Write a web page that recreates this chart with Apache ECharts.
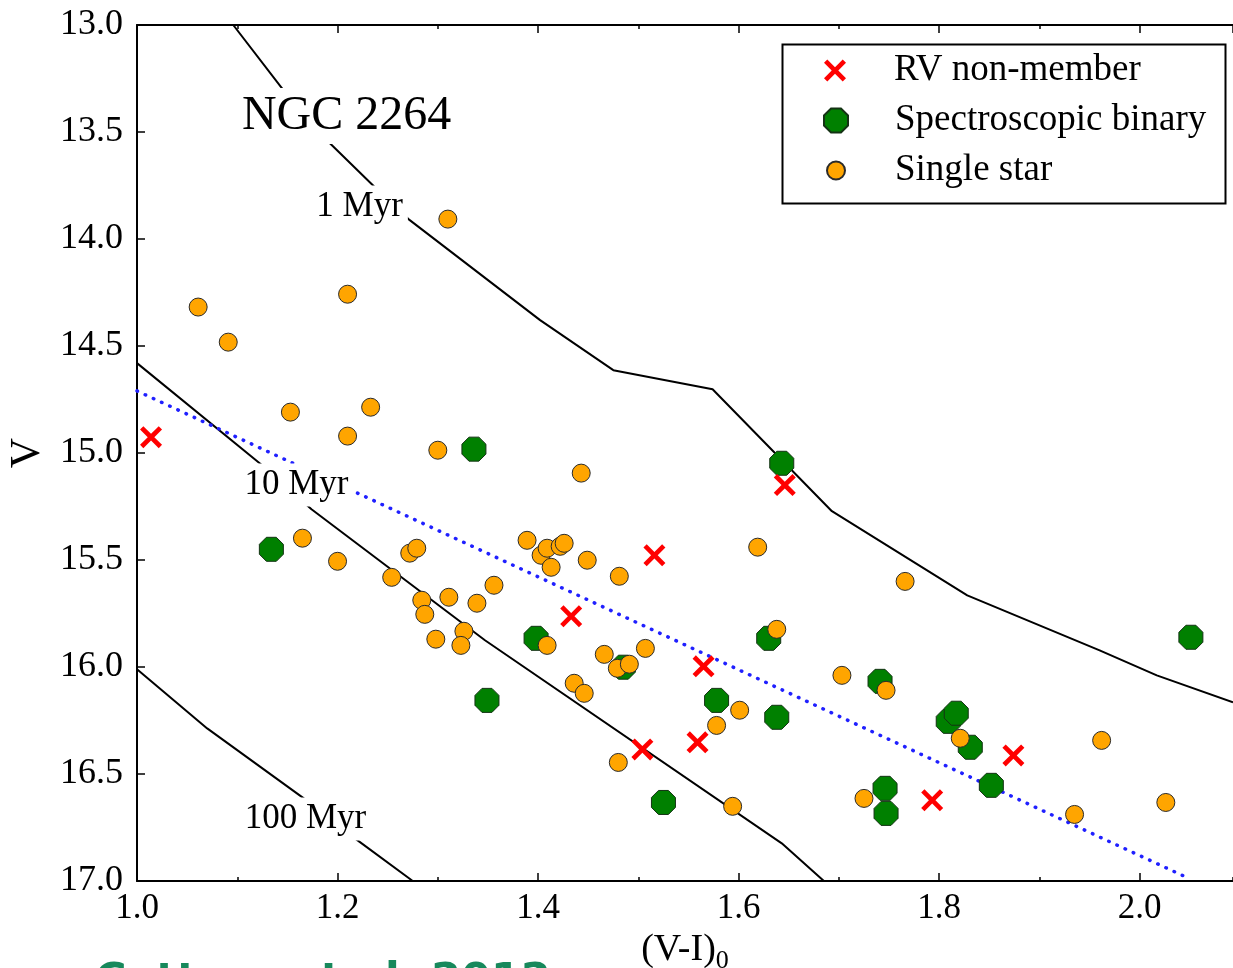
<!DOCTYPE html>
<html>
<head>
<meta charset="utf-8">
<title>NGC 2264 colour-magnitude diagram</title>
<script src="https://cdn.jsdelivr.net/npm/echarts@6/dist/echarts.min.js"></script>
<style>
  html, body { margin: 0; padding: 0; background: #fff; }
  #chart { width: 1233px; height: 968px; }
</style>
</head>
<body>
<div id="chart"></div>
<script>
// ── data: [(V-I)0, V] ─────────────────────────────────────
const rvNonMember = [
  [1.014, 14.926], [1.646, 15.150], [1.516, 15.478], [1.433, 15.763], [1.565, 15.997],
  [1.504, 16.385], [1.559, 16.352], [1.874, 16.413], [1.793, 16.623]
]
const specBinary = [
  [1.336, 14.982], [1.643, 15.048], [1.134, 15.450], [1.398, 15.866], [1.485, 16.001],
  [1.630, 15.866], [2.051, 15.861], [1.349, 16.156], [1.578, 16.156], [1.638, 16.235],
  [1.741, 16.067], [1.809, 16.254], [1.817, 16.216], [1.831, 16.375], [1.852, 16.553],
  [1.525, 16.633], [1.746, 16.567], [1.747, 16.684]
]
const singleStar = [
  [1.061, 14.318], [1.210, 14.258], [1.310, 13.907], [1.091, 14.482], [1.153, 14.809],
  [1.233, 14.786], [1.210, 14.921], [1.300, 14.987], [1.443, 15.094], [1.165, 15.398],
  [1.200, 15.506], [1.254, 15.581], [1.272, 15.468], [1.279, 15.445], [1.389, 15.408],
  [1.403, 15.478], [1.409, 15.445], [1.422, 15.436], [1.426, 15.422], [1.413, 15.534],
  [1.449, 15.501], [1.481, 15.576], [1.619, 15.440], [1.766, 15.600], [1.356, 15.618],
  [1.284, 15.688], [1.311, 15.674], [1.339, 15.702], [1.287, 15.754], [1.326, 15.833],
  [1.298, 15.870], [1.323, 15.899], [1.409, 15.899], [1.466, 15.941], [1.479, 16.006],
  [1.491, 15.987], [1.507, 15.913], [1.638, 15.824], [1.703, 16.039], [1.436, 16.076],
  [1.446, 16.123], [1.601, 16.202], [1.578, 16.273], [1.747, 16.109], [1.821, 16.333],
  [1.962, 16.343], [1.480, 16.446], [1.594, 16.651], [1.725, 16.614], [1.935, 16.689],
  [2.026, 16.633]
]

// isochrones
const iso1Myr = [
  [1.096, 13.0], [1.146, 13.304], [1.187, 13.528], [1.237, 13.757], [1.272, 13.912],
  [1.402, 14.379], [1.475, 14.613], [1.574, 14.702], [1.693, 15.272], [1.828, 15.665],
  [1.960, 15.922], [2.017, 16.039], [2.093, 16.165]
]
const iso10Myr = [
  [1.0, 14.580], [1.126, 15.062], [1.174, 15.263], [1.347, 15.875], [1.643, 16.824], [1.685, 17.0]
]
const iso100Myr = [
  [1.0, 16.011], [1.070, 16.287], [1.165, 16.609], [1.220, 16.810], [1.275, 17.0]
]
const fitLine = [[1.0, 14.71], [2.05, 16.99]]

// text annotations
const notes = [
  { name: 'NGC 2264', value: [1.209, 13.425], size: 48 },
  { name: '1 Myr',    value: [1.222, 13.85],  size: 35 },
  { name: '10 Myr',   value: [1.159, 15.15],  size: 35 },
  { name: '100 Myr',  value: [1.168, 16.71],  size: 35 },
]

const SERIF = '"Liberation Serif", "DejaVu Serif", serif'
const X_PATH = 'path://M0,1.5L1.5,0L5,3.5L8.5,0L10,1.5L6.5,5L10,8.5L8.5,10L5,6.5L1.5,10L0,8.5L3.5,5Z'
const OCT_PATH = 'path://M29.3,0L70.7,0L100,29.3L100,70.7L70.7,100L29.3,100L0,70.7L0,29.3Z'
const X_MAX = 2.093

const chart = echarts.init(document.getElementById('chart'), null, { renderer: 'canvas' })

// major axis (labels + long ticks) and a second one carrying the short ticks
function majorX(pos, withLabels) {
  return {
    type: 'value', position: pos, min: 1.0, max: X_MAX, interval: 0.2,
    axisLine: { show: true, onZero: false, lineStyle: { color: '#000', width: 2 } },
    axisTick: { show: true, inside: true, length: 8, lineStyle: { color: '#000', width: 1.5 } },
    axisLabel: {
      show: withLabels, showMaxLabel: false, margin: 10,
      fontFamily: SERIF, fontSize: 35, color: '#000',
      formatter: v => v.toFixed(1)
    },
    splitLine: { show: false },
  }
}
function minorX(pos) {
  return {
    type: 'value', position: pos, min: 1.0, max: X_MAX, interval: 0.1,
    axisLine: { show: false },
    axisTick: { show: true, inside: true, length: 4, lineStyle: { color: '#000', width: 1.5 } },
    axisLabel: { show: false },
    splitLine: { show: false },
  }
}

const labelStyle = (size) => ({
  show: true, position: 'inside', formatter: '{b}',
  fontFamily: SERIF, fontSize: size, color: '#000', opacity: 1,
  backgroundColor: '#ffffff', padding: [4, 5],
})

const legendText = (pad) => ({ fontFamily: SERIF, fontSize: 37, color: '#000', padding: [0, 0, 0, pad] })

const option = {
  backgroundColor: '#fff',
  animation: false,
  grid: { left: 137, top: 25, right: 0, bottom: 87, containLabel: false, outerBoundsMode: 'none' },
  xAxis: [
    Object.assign(majorX('bottom', true), {
      name: '(V-I){sub|0}', nameLocation: 'middle', nameGap: 36,
      nameTextStyle: {
        fontFamily: SERIF, fontSize: 38, color: '#000',
        rich: { sub: { fontFamily: SERIF, fontSize: 26, color: '#000', padding: [22, 0, 0, 0] } }
      }
    }),
    majorX('top', false),
    minorX('bottom'),
    minorX('top'),
  ],
  yAxis: {
    type: 'value', inverse: true, min: 13, max: 17, interval: 0.5,
    axisLine: { show: true, onZero: false, lineStyle: { color: '#000', width: 2 } },
    axisTick: { show: true, inside: true, length: 8, lineStyle: { color: '#000', width: 1.5 } },
    axisLabel: { margin: 14, fontFamily: SERIF, fontSize: 36, color: '#000', formatter: v => v.toFixed(1) },
    splitLine: { show: false },
    name: 'V', nameLocation: 'middle', nameRotate: 90, nameGap: 74,
    nameTextStyle: { fontFamily: SERIF, fontSize: 42, color: '#000' },
  },
  legend: [
    { data: ['RV non-member'], left: 819, top: 47, itemWidth: 22, itemHeight: 22,
      selectedMode: false, textStyle: legendText(43) },
    { data: ['Spectroscopic binary'], left: 818, top: 97, itemWidth: 24, itemHeight: 24,
      selectedMode: false, textStyle: legendText(42) },
    { data: ['Single star'], left: 821, top: 147, itemWidth: 18, itemHeight: 18,
      selectedMode: false, textStyle: legendText(45) },
  ],
  graphic: [
    {
      type: 'rect', left: 780, top: 42, z: 0,
      shape: { width: 443, height: 159 },
      style: { fill: 'none', stroke: '#000', lineWidth: 2 }
    },
    {
      type: 'text', left: 95, top: 960, z: 0,
      style: {
        text: 'Cottaar et al. 2012', fill: '#17895c',
        font: 'bold 43px "DejaVu Sans", sans-serif'
      }
    }
  ],
  series: [
    // isochrones
    { name: '1 Myr', type: 'line', data: iso1Myr, showSymbol: false, z: 1, silent: true,
      lineStyle: { color: '#000', width: 2 } },
    { name: '10 Myr', type: 'line', data: iso10Myr, showSymbol: false, z: 1, silent: true,
      lineStyle: { color: '#000', width: 2 } },
    { name: '100 Myr', type: 'line', data: iso100Myr, showSymbol: false, z: 1, silent: true,
      lineStyle: { color: '#000', width: 2 } },
    { name: 'fit', type: 'line', data: fitLine, showSymbol: false, z: 1, silent: true,
      lineStyle: { color: '#2020ff', width: 3.5, type: [0.5, 8.5], cap: 'round' } },
    // annotations (white-boxed text over the lines)
    {
      name: 'notes', type: 'scatter', z: 5, zlevel: 0, silent: true,
      symbolSize: 1, itemStyle: { color: '#fff', opacity: 1 },
      data: notes.map(n => ({ name: n.name, value: n.value, label: labelStyle(n.size) })),
    },
    // stars
    {
      name: 'Spectroscopic binary', type: 'scatter', z: 6, data: specBinary,
      symbol: OCT_PATH, symbolSize: 24,
      itemStyle: { color: '#008000', borderColor: '#143214', borderWidth: 1, opacity: 1 }
    },
    {
      name: 'Single star', type: 'scatter', z: 6, data: singleStar,
      symbol: 'circle', symbolSize: 18,
      itemStyle: { color: '#ffa500', borderColor: '#2a2a2a', borderWidth: 1, opacity: 1 }
    },
    {
      name: 'RV non-member', type: 'scatter', z: 6, data: rvNonMember,
      symbol: X_PATH, symbolSize: 22,
      itemStyle: { color: '#ff0000', opacity: 1 }
    },
  ]
}

chart.setOption(option)
</script>
</body>
</html>
